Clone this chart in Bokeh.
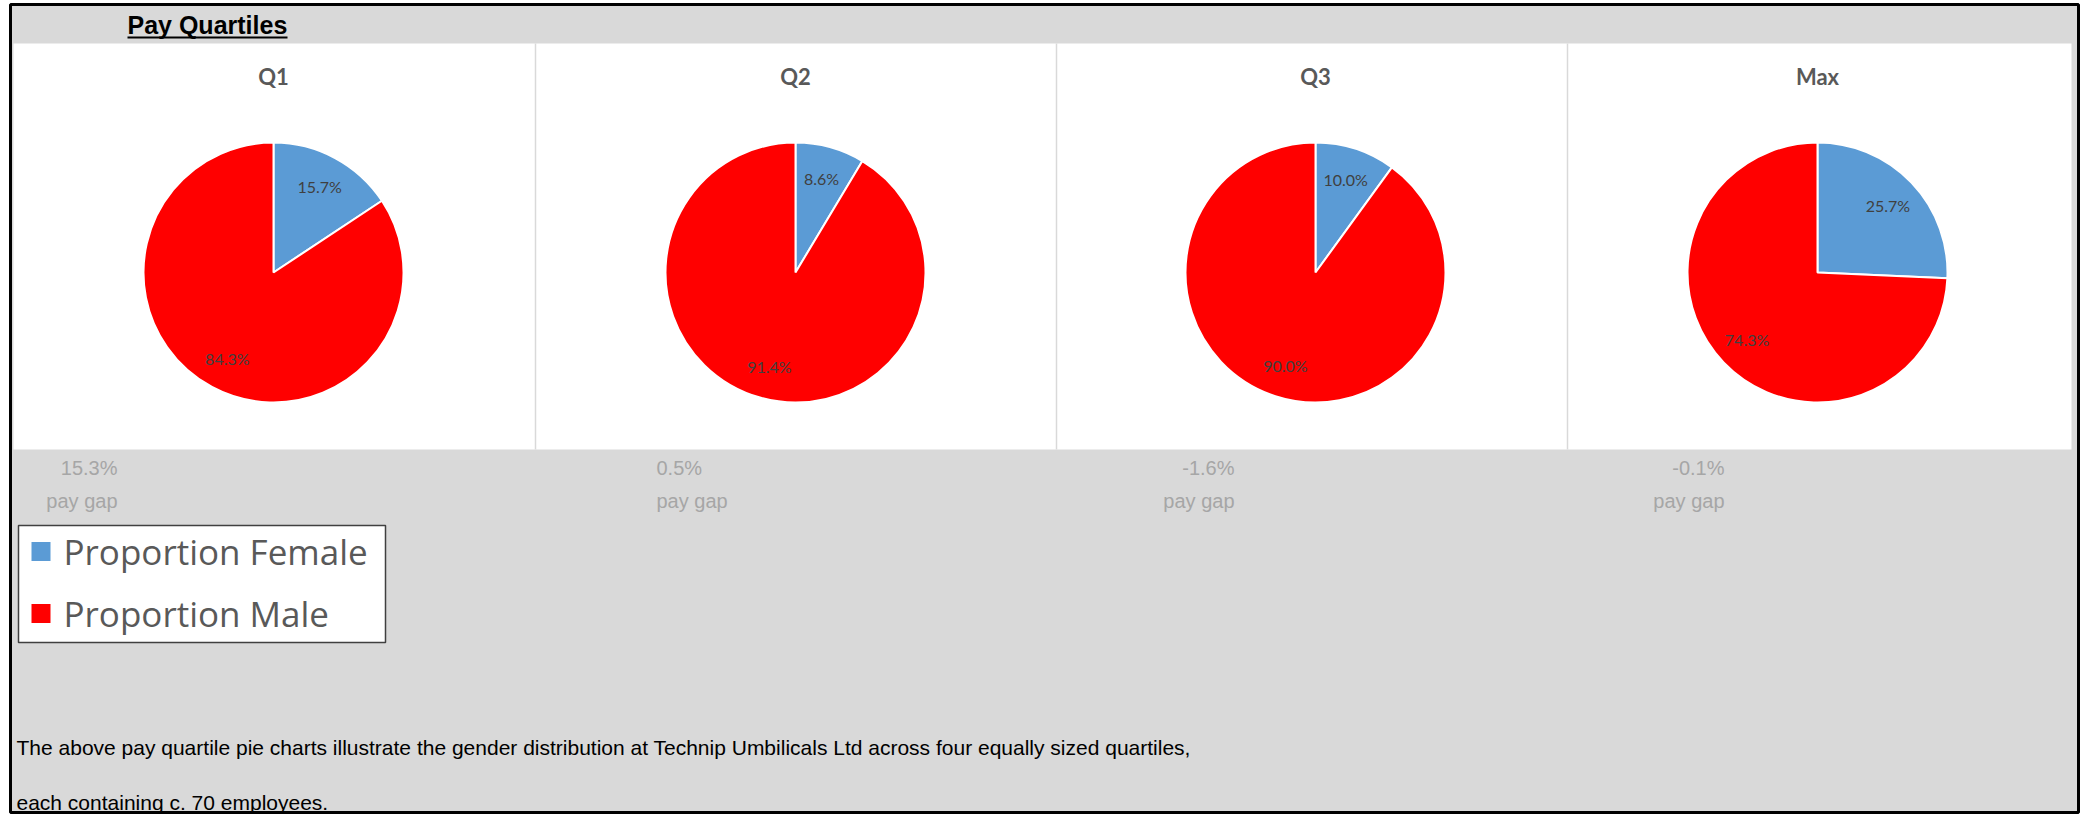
import numpy as np
from bokeh.plotting import figure
from bokeh.models import Range1d, ColumnDataSource
from bokeh.embed import file_html
from bokeh.resources import INLINE
from bokeh.core.properties import value

# ---------------- data ----------------
quartiles = ["Q1", "Q2", "Q3", "Max"]
female_pct = [15.7, 8.6, 10.0, 25.7]
male_pct = [84.3, 91.4, 90.0, 74.3]
pay_gap = ["15.3%", "0.5%", "-1.6%", "-0.1%"]
series = ["Proportion Female", "Proportion Male"]
series_colors = ["#5B9BD5", "#FF0000"]
title = "Pay Quartiles"
note_lines = [
    "The above pay quartile pie charts illustrate the gender distribution at Technip Umbilicals Ltd across four equally sized quartiles,",
    "each containing c. 70   employees.",
]

# ---------------- layout (image pixel coordinates) ----------------
W, H = 2087, 816


def Y(img_y):
    return H - img_y


pie_cx = [273, 795, 1315, 1817]
pie_cy = 272
pie_r = 130
panel_edges = [13, 535, 1056, 1567, 2071]
gap_x = [117, 656, 1234, 1724]
gap_align = ["right", "left", "right", "right"]

p = figure(width=W, height=H, output_backend="svg", toolbar_location=None,
           x_axis_type=None, y_axis_type=None,
           x_range=Range1d(0, W), y_range=Range1d(0, H),
           min_border=0, min_border_left=0, min_border_right=0,
           min_border_top=0, min_border_bottom=0)
p.outline_line_color = None
p.background_fill_color = "white"
p.border_fill_color = "white"

# grey sheet background
p.quad(left=[10], right=[2078], top=[Y(4)], bottom=[Y(812)],
       fill_color="#D9D9D9", line_color=None)
# white chart panel
p.quad(left=[panel_edges[0]], right=[panel_edges[-1]], top=[Y(43)], bottom=[Y(449)],
       fill_color="white", line_color=None)
# panel dividers
p.segment(x0=panel_edges[1:-1], x1=panel_edges[1:-1],
          y0=[Y(43)] * 3, y1=[Y(449)] * 3, line_color="#D9D9D9", line_width=1.5)
# black frame
p.quad(left=[10], right=[2078], top=[Y(4)], bottom=[Y(812)],
       fill_color=None, line_color="black", line_width=3)

# title
p.text(x=[127], y=[Y(24)], text=[title], text_font=value("Liberation Sans"),
       text_font_style="bold", text_font_size="25px", text_color="black",
       text_align="left", text_baseline="middle")
p.segment(x0=[127], x1=[287], y0=[Y(37)], y1=[Y(37)], line_color="black", line_width=2)

# pies
wx, wy, ws, we, wc, lx, ly, lt = [], [], [], [], [], [], [], []
for i, q in enumerate(quartiles):
    f = female_pct[i] / 100.0
    m = male_pct[i] / 100.0
    cx, cy = pie_cx[i], Y(pie_cy)
    # female: clockwise from 12 o'clock, male follows
    s_f, e_f = np.pi / 2 - 2 * np.pi * f, np.pi / 2
    s_m, e_m = np.pi / 2, np.pi / 2 + 2 * np.pi * m
    for (s, e, c, v) in [(s_f, e_f, series_colors[0], female_pct[i]),
                         (s_m, e_m, series_colors[1], male_pct[i])]:
        wx.append(cx); wy.append(cy); ws.append(s); we.append(e); wc.append(c)
        mid = (s + e) / 2
        lx.append(cx + 0.75 * pie_r * np.cos(mid))
        ly.append(cy + 0.75 * pie_r * np.sin(mid))
        lt.append(f"{v:.1f}%")

wsrc = ColumnDataSource(dict(x=wx, y=wy, s=ws, e=we, c=wc))
p.wedge(x="x", y="y", radius=pie_r, start_angle="s", end_angle="e",
        direction="anticlock", fill_color="c", line_color="white", line_width=2,
        source=wsrc)
p.text(x=lx, y=ly, text=lt, text_font=value("Lato"), text_font_size="16px",
       text_color="#404040", text_align="center", text_baseline="middle")

# quartile titles
p.text(x=pie_cx, y=[Y(76)] * 4, text=quartiles, text_font=value("Lato"),
       text_font_style="bold", text_font_size="22px", text_color="#595959",
       text_align="center", text_baseline="middle")

# pay gap notes
for i in range(4):
    p.text(x=[gap_x[i], gap_x[i]], y=[Y(467), Y(500)], text=[pay_gap[i], "pay gap"],
           text_font=value("Liberation Sans"), text_font_size="20px",
           text_color="#A6A6A6", text_align=gap_align[i], text_baseline="middle")

# legend box
p.quad(left=[18], right=[385], top=[Y(525)], bottom=[Y(642)],
       fill_color="white", line_color="#404040", line_width=1.5)
leg_y = [Y(551), Y(613)]
p.scatter(x=[40.5, 40.5], y=leg_y, marker="square", size=19,
          fill_color=series_colors, line_color=None)
p.text(x=[63, 63], y=leg_y, text=series, text_font=value("Open Sans"),
       text_font_size="35px", text_color="#595959",
       text_align="left", text_baseline="middle")

# footnote
p.text(x=[16, 16], y=[Y(747), Y(802)], text=note_lines,
       text_font=value("Liberation Sans"), text_font_size="21px", text_color="black",
       text_align="left", text_baseline="middle")

open("out.html", "w").write(file_html(p, INLINE))
